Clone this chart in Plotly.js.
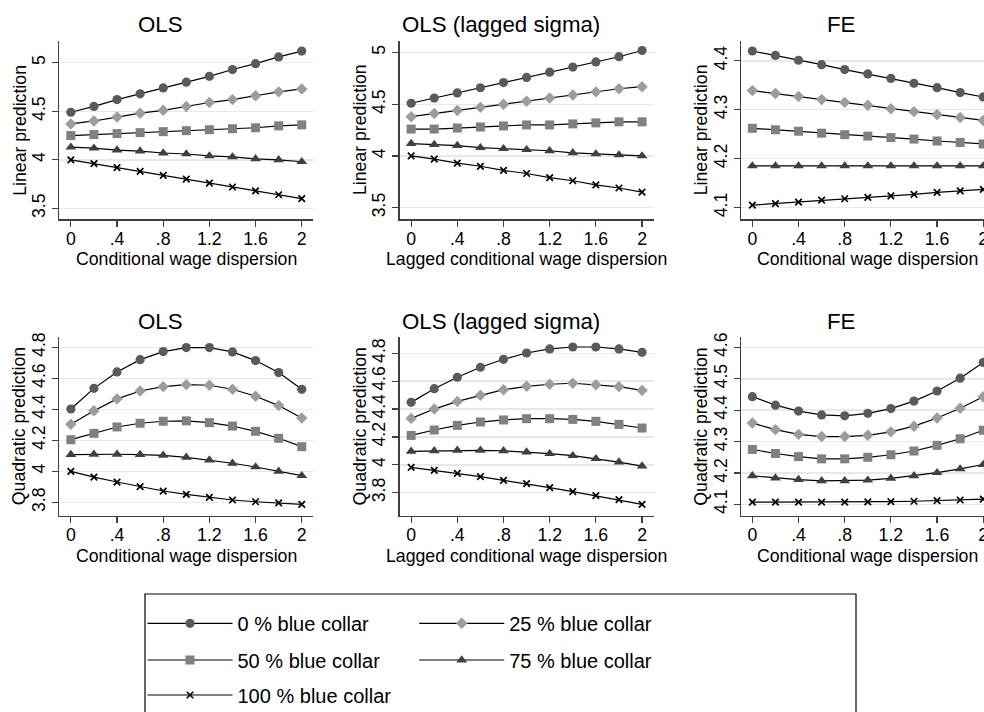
<!DOCTYPE html>
<html><head><meta charset="utf-8">
<script src="https://cdn.plot.ly/plotly-3.0.1.min.js"></script>
<style>html,body{margin:0;padding:0;overflow:hidden;background:#fff}#chart{width:1000px;height:740px}</style>
</head><body><div id="chart"></div>
<script>
// ---------------- data ----------------
const xs = [0, 0.2, 0.4, 0.6, 0.8, 1.0, 1.2, 1.4, 1.6, 1.8, 2.0];
const xTickVals = [0, 0.4, 0.8, 1.2, 1.6, 2];
const xTickText = ['0', '.4', '.8', '1.2', '1.6', '2'];
const seriesNames = ['0 % blue collar', '25 % blue collar', '50 % blue collar', '75 % blue collar', '100 % blue collar'];
const panelTitles = ['OLS', 'OLS (lagged sigma)', 'FE', 'OLS', 'OLS (lagged sigma)', 'FE'];
const xTitles = ['Conditional wage dispersion', 'Lagged conditional wage dispersion', 'Conditional wage dispersion',
                 'Conditional wage dispersion', 'Lagged conditional wage dispersion', 'Conditional wage dispersion'];
const yTitles = ['Linear prediction', 'Linear prediction', 'Linear prediction',
                 'Quadratic prediction', 'Quadratic prediction', 'Quadratic prediction'];

const yTickValsLinOLS = [3.5, 4, 4.5, 5];
const yTickTextLinOLS = ['3.5', '4', '4.5', '5'];
const yTickValsLinFE = [4.1, 4.2, 4.3, 4.4];
const yTickTextLinFE = ['4.1', '4.2', '4.3', '4.4'];
const yTickValsQuadOLS = [3.8, 4, 4.2, 4.4, 4.6, 4.8];
const yTickTextQuadOLS = ['3.8', '4', '4.2', '4.4', '4.6', '4.8'];
const yTickValsQuadFE = [4.1, 4.2, 4.3, 4.4, 4.5, 4.6];
const yTickTextQuadFE = ['4.1', '4.2', '4.3', '4.4', '4.5', '4.6'];

// OLS, linear
const olsLin0   = [4.49, 4.55, 4.62, 4.68, 4.74, 4.80, 4.86, 4.93, 4.99, 5.06, 5.12];
const olsLin25  = [4.37, 4.40, 4.44, 4.48, 4.51, 4.55, 4.59, 4.62, 4.66, 4.70, 4.73];
const olsLin50  = [4.25, 4.26, 4.27, 4.28, 4.29, 4.30, 4.31, 4.32, 4.33, 4.35, 4.36];
const olsLin75  = [4.13, 4.12, 4.10, 4.09, 4.07, 4.06, 4.04, 4.03, 4.01, 4.00, 3.98];
const olsLin100 = [4.00, 3.96, 3.92, 3.88, 3.84, 3.80, 3.76, 3.72, 3.68, 3.64, 3.60];
// OLS (lagged sigma), linear
const lagLin0   = [4.51, 4.56, 4.61, 4.66, 4.71, 4.76, 4.81, 4.86, 4.91, 4.96, 5.02];
const lagLin25  = [4.38, 4.41, 4.44, 4.47, 4.50, 4.53, 4.56, 4.59, 4.62, 4.65, 4.67];
const lagLin50  = [4.26, 4.26, 4.27, 4.28, 4.29, 4.30, 4.30, 4.31, 4.32, 4.33, 4.33];
const lagLin75  = [4.12, 4.11, 4.10, 4.08, 4.07, 4.06, 4.05, 4.03, 4.02, 4.01, 4.00];
const lagLin100 = [4.00, 3.97, 3.93, 3.90, 3.86, 3.83, 3.79, 3.76, 3.72, 3.69, 3.65];
// FE, linear
const feLin0   = [4.420, 4.411, 4.401, 4.392, 4.382, 4.373, 4.364, 4.354, 4.345, 4.335, 4.326];
const feLin25  = [4.339, 4.333, 4.327, 4.321, 4.315, 4.309, 4.302, 4.296, 4.290, 4.284, 4.278];
const feLin50  = [4.262, 4.259, 4.256, 4.252, 4.249, 4.246, 4.243, 4.240, 4.236, 4.233, 4.230];
const feLin75  = [4.185, 4.185, 4.185, 4.185, 4.185, 4.185, 4.185, 4.185, 4.185, 4.185, 4.185];
const feLin100 = [4.105, 4.108, 4.111, 4.115, 4.118, 4.121, 4.124, 4.127, 4.131, 4.134, 4.137];
// OLS, quadratic
const olsQuad0   = [4.402, 4.535, 4.641, 4.720, 4.772, 4.798, 4.798, 4.770, 4.714, 4.637, 4.529];
const olsQuad25  = [4.303, 4.391, 4.467, 4.518, 4.546, 4.559, 4.555, 4.529, 4.484, 4.424, 4.344];
const olsQuad50  = [4.204, 4.245, 4.286, 4.310, 4.323, 4.325, 4.314, 4.292, 4.258, 4.213, 4.159];
const olsQuad75  = [4.108, 4.110, 4.110, 4.108, 4.103, 4.090, 4.073, 4.052, 4.028, 4.000, 3.972];
const olsQuad100 = [4.000, 3.963, 3.931, 3.901, 3.873, 3.852, 3.832, 3.815, 3.804, 3.796, 3.787];
// OLS (lagged sigma), quadratic
const lagQuad0   = [4.448, 4.546, 4.628, 4.700, 4.757, 4.802, 4.831, 4.845, 4.845, 4.831, 4.807];
const lagQuad25  = [4.333, 4.400, 4.455, 4.499, 4.539, 4.563, 4.578, 4.585, 4.575, 4.561, 4.534];
const lagQuad50  = [4.211, 4.250, 4.283, 4.307, 4.322, 4.331, 4.331, 4.326, 4.312, 4.290, 4.264];
const lagQuad75  = [4.097, 4.101, 4.104, 4.104, 4.101, 4.092, 4.080, 4.066, 4.044, 4.020, 3.991];
const lagQuad100 = [3.982, 3.960, 3.939, 3.915, 3.889, 3.865, 3.836, 3.808, 3.779, 3.750, 3.716];
// FE, quadratic
const feQuad0   = [4.443, 4.416, 4.397, 4.385, 4.382, 4.390, 4.405, 4.429, 4.461, 4.502, 4.552];
const feQuad25  = [4.359, 4.338, 4.323, 4.316, 4.316, 4.320, 4.331, 4.349, 4.375, 4.406, 4.443];
const feQuad50  = [4.275, 4.262, 4.252, 4.245, 4.245, 4.250, 4.258, 4.270, 4.288, 4.309, 4.336];
const feQuad75  = [4.191, 4.184, 4.179, 4.175, 4.175, 4.177, 4.183, 4.191, 4.201, 4.213, 4.227];
const feQuad100 = [4.107, 4.107, 4.107, 4.107, 4.107, 4.108, 4.109, 4.110, 4.112, 4.114, 4.117];

// ---------------- layout constants ----------------
const W = 1000, H = 740;
const FONT = 'Liberation Sans, Arial, Helvetica, sans-serif';
const plotW = 254;
const colLeft = [59.3, 399.6, 740.8];
const rowTop = [40.7, 336.7];
const rowBot = [219.3, 516];
const yRanges = [[3.387, 5.227], [3.387, 5.115], [4.076, 4.441], [3.712, 4.868], [3.633, 4.919], [4.063, 4.634]];

const panelSeries = [
  [olsLin0, olsLin25, olsLin50, olsLin75, olsLin100],
  [lagLin0, lagLin25, lagLin50, lagLin75, lagLin100],
  [feLin0, feLin25, feLin50, feLin75, feLin100],
  [olsQuad0, olsQuad25, olsQuad50, olsQuad75, olsQuad100],
  [lagQuad0, lagQuad25, lagQuad50, lagQuad75, lagQuad100],
  [feQuad0, feQuad25, feQuad50, feQuad75, feQuad100]
];
const panelYTicks = [
  [yTickValsLinOLS, yTickTextLinOLS], [yTickValsLinOLS, yTickTextLinOLS], [yTickValsLinFE, yTickTextLinFE],
  [yTickValsQuadOLS, yTickTextQuadOLS], [yTickValsQuadOLS, yTickTextQuadOLS], [yTickValsQuadFE, yTickTextQuadFE]
];

const markerStyles = [
  {symbol: 'circle', color: '#5a5a5a', size: 9.2, line: {width: 0}},
  {symbol: 'diamond', color: '#9c9c9c', size: 8.8, line: {width: 0}},
  {symbol: 'square', color: '#808080', size: 9, line: {width: 0}},
  {symbol: 'triangle-up', color: '#404040', size: 9.5, line: {width: 0}},
  {symbol: 'x-thin-open', color: '#000000', size: 6.5, line: {width: 1.7, color: '#000000'}}
];
const legendIds = ['legend', 'legend2', 'legend3', 'legend4', 'legend5'];
const legendPos = [[142.5, 623.3], [414.2, 623.3], [142.5, 660], [414.2, 660], [142.5, 695]];

const traces = [];
const layout = {
  width: W, height: H,
  margin: {l: 0, r: 0, t: 0, b: 0},
  paper_bgcolor: '#ffffff', plot_bgcolor: '#ffffff',
  font: {family: FONT, color: '#000000', size: 17.7},
  showlegend: true,
  hovermode: false,
  annotations: [],
  shapes: []
};

panelSeries.forEach((series, i) => {
  const sfx = i === 0 ? '' : String(i + 1);
  const col = i % 3, row = Math.floor(i / 3);
  const L = colLeft[col];
  const top = rowTop[row], bot = rowBot[row];
  series.forEach((ys, s) => {
    const t = {
      type: 'scatter', mode: 'lines+markers', x: xs, y: ys, name: seriesNames[s],
      xaxis: 'x' + sfx, yaxis: 'y' + sfx,
      line: {color: '#000000', width: 1.2},
      marker: markerStyles[s],
      showlegend: i === 0,
      cliponaxis: false
    };
    if (i === 0) t.legend = legendIds[s];
    traces.push(t);
  });
  layout['xaxis' + sfx] = {
    domain: [L / W, (L + plotW) / W], anchor: 'y' + sfx,
    range: [-0.1, 2.1], tickmode: 'array', tickvals: xTickVals, ticktext: xTickText,
    showline: true, linecolor: '#404040', linewidth: 1.2,
    ticks: 'outside', ticklen: 6, tickwidth: 1.2, tickcolor: '#404040',
    ticklabelstandoff: -3,
    tickfont: {size: 17.7, color: '#000'}, showgrid: false, zeroline: false, fixedrange: true
  };
  layout['yaxis' + sfx] = {
    domain: [1 - bot / H, 1 - top / H], anchor: 'x' + sfx,
    range: yRanges[i], tickmode: 'array', tickvals: panelYTicks[i][0], ticktext: panelYTicks[i][1],
    tickangle: -90,
    showline: true, linecolor: '#404040', linewidth: 1.2,
    ticks: 'outside', ticklen: 6, tickwidth: 1.2, tickcolor: '#404040',
    tickfont: {size: 17.7, color: '#000'},
    showgrid: true, gridcolor: '#e8e8e8', gridwidth: 1.5, zeroline: false, fixedrange: true
  };
  // panel title
  layout.annotations.push({
    text: panelTitles[i], xref: 'paper', yref: 'paper', showarrow: false,
    x: (L + plotW / 2 - 26) / W, y: 1 - (row === 0 ? 25 : 321.5) / H,
    xanchor: 'center', yanchor: 'middle', font: {size: 22.3, color: '#000'}
  });
  // x axis title
  layout.annotations.push({
    text: xTitles[i], xref: 'paper', yref: 'paper', showarrow: false,
    x: (L + plotW / 2) / W, y: 1 - (bot + 39.5) / H,
    xanchor: 'center', yanchor: 'middle', font: {size: 17.7, color: '#000'}
  });
  // y axis title
  layout.annotations.push({
    text: yTitles[i], xref: 'paper', yref: 'paper', showarrow: false, textangle: -90,
    x: (L - 39.5) / W, y: 1 - ((top + bot) / 2) / H,
    xanchor: 'center', yanchor: 'middle', font: {size: 17.7, color: '#000'}
  });
});

// legend frame
layout.shapes.push({
  type: 'rect', xref: 'paper', yref: 'paper', layer: 'below',
  x0: 145 / W, x1: 856 / W, y0: 1 - 594 / H, y1: 1 - 718 / H,
  line: {color: '#000000', width: 1.2}, fillcolor: '#ffffff'
});
legendIds.forEach((id, k) => {
  layout[id] = {
    x: legendPos[k][0] / W, y: 1 - (legendPos[k][1] - 19.5) / H,
    xanchor: 'left', yanchor: 'top', orientation: 'v',
    bgcolor: 'rgba(0,0,0,0)', borderwidth: 0,
    font: {size: 20, color: '#000', family: FONT},
    itemwidth: 85, itemclick: false, itemdoubleclick: false
  };
});

Plotly.newPlot('chart', traces, layout, {staticPlot: true, displayModeBar: false});
</script>
</body></html>
